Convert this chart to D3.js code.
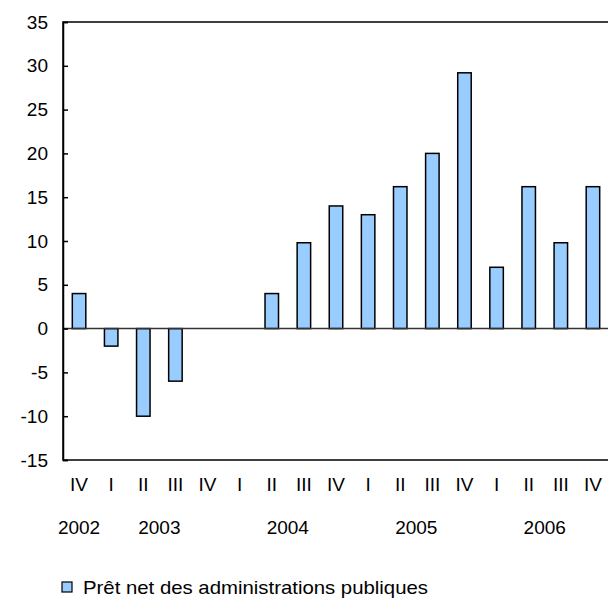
<!DOCTYPE html>
<html><head><meta charset="utf-8">
<script src="https://cdn.jsdelivr.net/npm/d3@7"></script>
<style>body{margin:0;background:#fff}svg{display:block}text{font-family:"Liberation Sans",Arial,sans-serif;fill:#000}</style>
</head><body><svg id="c" width="608" height="602"></svg>
<script>
const quarters = ["IV","I","II","III","IV","I","II","III","IV","I","II","III","IV","I","II","III","IV"];
const years = [{label:"2002",from:0,to:0},{label:"2003",from:1,to:4},{label:"2004",from:5,to:8},{label:"2005",from:9,to:12},{label:"2006",from:13,to:16}];
const values = [4,-2,-10,-6,0,0,4,9.8,14,13,16.2,20,29.2,7,16.2,9.8,16.2];
const yTicks = [-15,-10,-5,0,5,10,15,20,25,30,35];
const seriesName = "Prêt net des administrations publiques";

const svg = d3.select("#c");
const L=63, R=609, T=22, B=460;
const x = d3.scaleBand().domain(d3.range(values.length)).range([L,R]).paddingInner(0.58).paddingOuter(0.29);
const y = d3.scaleLinear().domain([-15,35]).range([B,T]);
const fs = 19;

// frame
svg.append("rect").attr("x",L).attr("y",T).attr("width",R-L).attr("height",B-T)
  .attr("fill","none").attr("stroke","#000").attr("stroke-width",1.5);

// bars
svg.selectAll(".bar").data(values).enter().append("rect")
  .attr("x",(d,i)=>x(i)).attr("width",x.bandwidth())
  .attr("y",d=>y(Math.max(0,d))).attr("height",d=>Math.abs(y(d)-y(0)))
  .attr("fill","#99CCFF").attr("stroke","#000").attr("stroke-width",1.5)
  .attr("display",d=>d===0?"none":null);

// zero line
svg.append("line").attr("x1",L).attr("x2",R).attr("y1",y(0)).attr("y2",y(0))
  .attr("stroke","#333").attr("stroke-width",1.5);

// y axis
const ya = svg.append("g").attr("transform",`translate(${L},0)`)
  .call(d3.axisLeft(y).tickValues(yTicks).tickSize(-5).tickPadding(15).tickFormat(d=>String(d)));
ya.select(".domain").attr("stroke","#000").attr("stroke-width",1.5);
ya.selectAll(".tick line").attr("stroke","#000").attr("stroke-width",1.5);
ya.selectAll(".tick text").attr("font-size",fs).attr("font-family","Liberation Sans, Arial, sans-serif").attr("fill","#000");

// quarter labels
svg.selectAll(".q").data(quarters).enter().append("text")
  .attr("x",(d,i)=>x(i)+x.bandwidth()/2).attr("y",484).attr("dy","0.35em")
  .attr("text-anchor","middle").attr("font-size",fs).text(d=>d);

// year labels
svg.selectAll(".yr").data(years).enter().append("text")
  .attr("x",d=>(x(d.from)+x(d.to))/2+x.bandwidth()/2).attr("y",527).attr("dy","0.35em")
  .attr("text-anchor","middle").attr("font-size",fs).text(d=>d.label);

// legend
svg.append("rect").attr("x",62).attr("y",582).attr("width",10).attr("height",10)
  .attr("fill","#99CCFF").attr("stroke","#000").attr("stroke-width",1.2);
svg.append("text").attr("x",83).attr("y",587).attr("dy","0.35em").attr("font-size",fs)
  .attr("textLength",345).attr("lengthAdjust","spacingAndGlyphs").text(seriesName);
</script></body></html>
